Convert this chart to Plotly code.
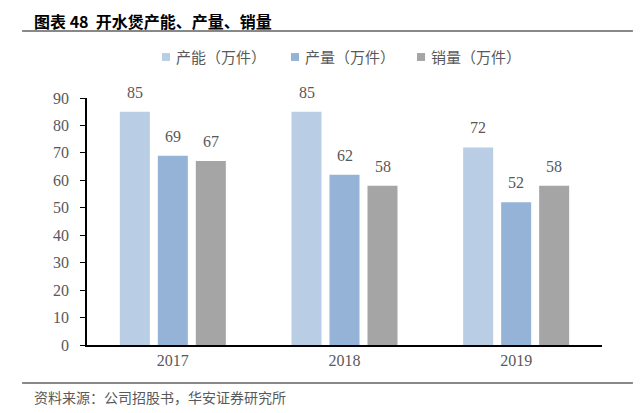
import plotly.graph_objects as go

years = ["2017", "2018", "2019"]
series_names = ["产能（万件）", "产量（万件）", "销量（万件）"]
capacity = [85, 85, 72]
output = [69, 62, 52]
sales = [67, 58, 58]
y_ticks = [0, 10, 20, 30, 40, 50, 60, 70, 80, 90]

colors = ["#B9CDE5", "#95B3D7", "#A5A5A5"]
serif = "Liberation Serif"
cjk = "Noto Sans CJK SC"

fig = go.Figure()
all_series = [capacity, output, sales]
for name, vals, col in zip(series_names, all_series, colors):
    fig.add_trace(go.Bar(
        x=years, y=vals, name=name, marker=dict(color=col, line=dict(width=0)),
        showlegend=False,
    ))

fig.update_layout(
    width=644, height=413,
    margin=dict(l=79, r=50, t=90, b=76, autoexpand=False),
    paper_bgcolor="white", plot_bgcolor="white",
    barmode="group", bargap=0.336, bargroupgap=0.21,
    showlegend=False,
    xaxis=dict(type="category", range=[-0.5, 2.5], showline=True, linecolor="black", linewidth=1.5,
               ticks="", tickfont=dict(family=serif, size=16, color="#595959"), showgrid=False),
    yaxis=dict(range=[0, 90], tickvals=y_ticks, showline=True, linecolor="black", linewidth=1.5,
               ticks="outside", ticklen=5, tickcolor="black", showgrid=False, zeroline=False,
               tickfont=dict(family=serif, size=16, color="#595959"), ticklabelstandoff=8),
    font=dict(family=cjk),
)

# value labels above bars (x given as category index)
slot_px = 38
for i, vals in enumerate(all_series):
    for j, v in enumerate(vals):
        fig.add_annotation(x=j, y=v, text=str(v), showarrow=False, xref="x", yref="y",
                           xshift=(i - 1) * slot_px, yshift=9, yanchor="bottom",
                           font=dict(family=serif, size=16, color="#595959"))

# manual legend
leg_x = [0.1456, 0.3961, 0.6408]
for name, col, lx in zip(series_names, colors, leg_x):
    fig.add_shape(type="rect", xref="paper", yref="paper", x0=lx, x1=lx + 0.0156,
                  y0=1.150, y1=1.182, line=dict(width=0), fillcolor=col)
    fig.add_annotation(text=name, xref="paper", yref="paper", x=lx + 0.024, y=1.166,
                       xanchor="left", yanchor="middle", showarrow=False,
                       font=dict(family=cjk, size=15, color="#595959"))

# title and source
fig.add_annotation(text="<b>图表 48  开水煲产能、产量、销量</b>", xref="paper", yref="paper",
                   x=-0.106, y=1.312, xanchor="left", yanchor="middle", showarrow=False,
                   font=dict(family=cjk, size=16, color="black"))
fig.add_annotation(text="资料来源：公司招股书，华安证券研究所", xref="paper", yref="paper",
                   x=-0.106, y=-0.21, xanchor="left", yanchor="middle", showarrow=False,
                   font=dict(family=cjk, size=14, color="#595959"))
fig.add_shape(type="line", xref="paper", yref="paper", x0=-0.126, x1=1.06, y0=1.271, y1=1.271,
              line=dict(color="#888888", width=2))
fig.add_shape(type="line", xref="paper", yref="paper", x0=-0.126, x1=1.06, y0=-0.154, y1=-0.154,
              line=dict(color="#888888", width=2))

fig.write_html("out.html")
